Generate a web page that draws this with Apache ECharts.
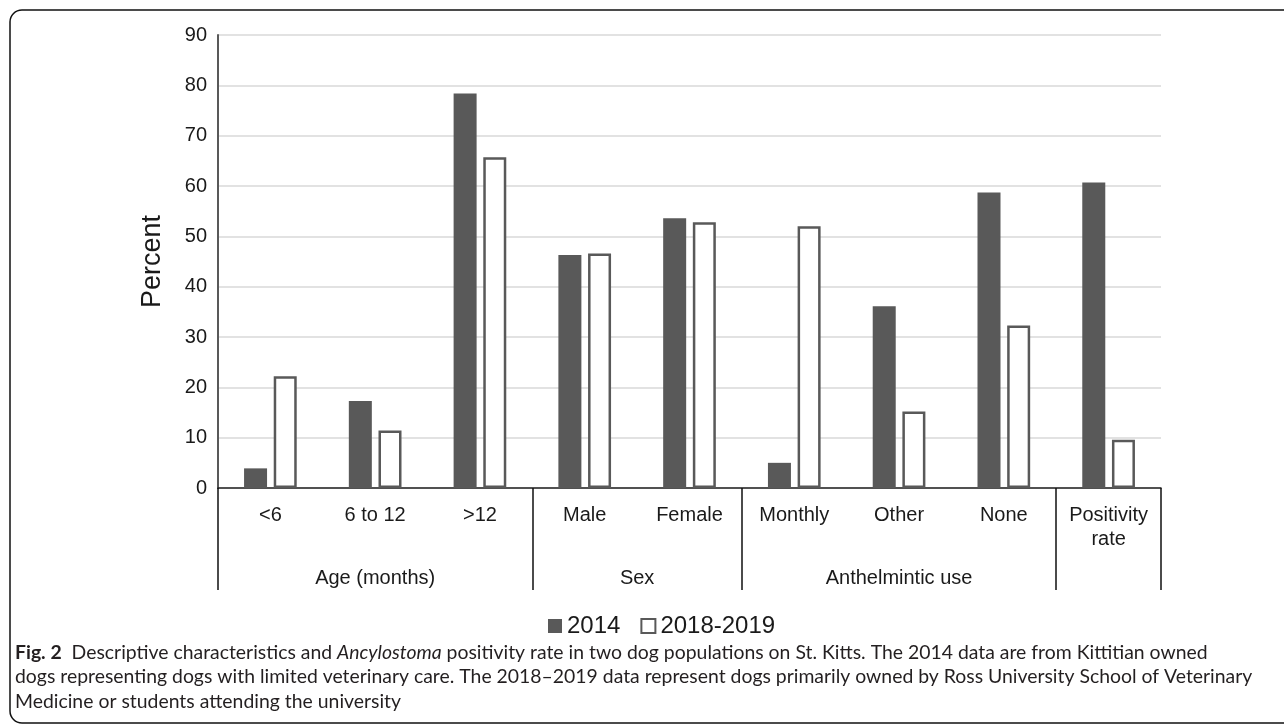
<!DOCTYPE html>
<html>
<head>
<meta charset="utf-8">
<script src="https://cdn.jsdelivr.net/npm/echarts@6/dist/echarts.min.js"></script>
<style>
  html, body { margin: 0; padding: 0; background: #fff; }
  #chart { width: 1284px; height: 724px; }
</style>
</head>
<body>
<div id="chart"></div>
<script>
// ---- data ----
const categories = ['<6', '6 to 12', '>12', 'Male', 'Female', 'Monthly', 'Other', 'None', 'Positivity\nrate'];
const values2014 = [3.9, 17.3, 78.4, 46.3, 53.6, 5.0, 36.1, 58.7, 60.7];
const values2018 = [22.2, 11.4, 65.7, 46.6, 52.8, 52.0, 15.2, 32.3, 9.6];
const seriesNames = ['2014', '2018-2019'];
const groupNames = ['Age (months)', 'Sex', 'Anthelmintic use', ''];
const groupSizes = [3, 2, 3, 1];
const yTicks = [0, 10, 20, 30, 40, 50, 60, 70, 80, 90];

// group boundaries and centres (in category units)
const groupBounds = [0];
groupSizes.forEach(s => groupBounds.push(groupBounds[groupBounds.length - 1] + s));
const groupCenters = groupSizes.map((s, i) => groupBounds[i] + s / 2);

const FONT = '"Liberation Sans", Arial, sans-serif';
const CAP_FONT = 'Lato, "Open Sans", sans-serif';
const CAP_SIZE = 19.4;
const DARK = '#595959';

const chart = echarts.init(document.getElementById('chart'), null, { renderer: 'canvas' });
chart.setOption({
  animation: false,
  backgroundColor: '#ffffff',
  grid: { left: 218, right: 123, top: 35, bottom: 236, containLabel: false },
  title: {
    left: 15, top: 640, padding: 0,
    text: '{b|Fig. 2}  Descriptive characteristics and {i|Ancylostoma} positivity rate in two dog populations on St. Kitts. The 2014 data are from Kittitian owned\n' +
          'dogs representing dogs with limited veterinary care. The 2018\u20132019 data represent dogs primarily owned by Ross University School of Veterinary\n' +
          'Medicine or students attending the university',
    textStyle: {
      fontFamily: CAP_FONT, fontSize: CAP_SIZE, fontWeight: 'normal', color: '#231f20', lineHeight: 24.5,
      rich: {
        b: { fontFamily: CAP_FONT, fontWeight: 'bold', fontSize: CAP_SIZE, color: '#231f20', lineHeight: 24.5 },
        i: { fontFamily: CAP_FONT, fontStyle: 'italic', fontSize: CAP_SIZE, color: '#231f20', lineHeight: 24.5 }
      }
    }
  },
  legend: {
    data: seriesNames,
    left: 543, top: 609,
    icon: 'rect', itemWidth: 14, itemHeight: 14, itemGap: 20,
    textStyle: { fontFamily: FONT, fontSize: 24, color: '#1a1a1a', padding: [0, 0, 0, 0] }
  },
  xAxis: [
    {
      type: 'category', data: categories, position: 'bottom',
      axisLine: { show: true, lineStyle: { color: '#222', width: 1.5 } },
      axisTick: { show: false },
      axisLabel: { fontFamily: FONT, fontSize: 20, color: '#1a1a1a', margin: 15, lineHeight: 24, interval: 0 },
      splitLine: { show: false }
    },
    {
      type: 'value', min: 0, max: categories.length, position: 'bottom',
      axisLine: { show: false },
      splitLine: { show: false },
      axisTick: { show: true, customValues: groupBounds, length: 102, inside: false, lineStyle: { color: '#111', width: 1.5 } },
      axisLabel: {
        show: true, customValues: groupCenters, margin: 80,
        fontFamily: FONT, fontSize: 20, color: '#1a1a1a',
        formatter: v => { const i = groupCenters.indexOf(v); return i >= 0 ? groupNames[i] : ''; }
      }
    }
  ],
  yAxis: {
    type: 'value', min: yTicks[0], max: yTicks[yTicks.length - 1], interval: 10,
    name: 'Percent', nameLocation: 'middle', nameGap: 52, nameRotate: 90,
    nameTextStyle: { fontFamily: FONT, fontSize: 27, color: '#1a1a1a' },
    axisLine: { show: true, lineStyle: { color: DARK, width: 2 } },
    axisTick: { show: false },
    axisLabel: { fontFamily: FONT, fontSize: 20, color: '#1a1a1a', margin: 11 },
    splitLine: { show: true, lineStyle: { color: '#d9d9d9', width: 1.5 } }
  },
  series: [
    {
      name: seriesNames[0], type: 'bar', data: values2014,
      barWidth: 23, barGap: '29%',
      itemStyle: { color: DARK }
    },
    {
      name: seriesNames[1], type: 'bar', data: values2018,
      barWidth: 23,
      itemStyle: { color: '#ffffff', borderColor: DARK, borderWidth: 2.5 }
    }
  ],
  graphic: [
    {
      type: 'rect', silent: true, z: -1,
      shape: { x: 10, y: 10, width: 1300, height: 713, r: 12 },
      style: { fill: 'none', stroke: '#111', lineWidth: 1.5 }
    }
  ]
});
</script>
</body>
</html>
